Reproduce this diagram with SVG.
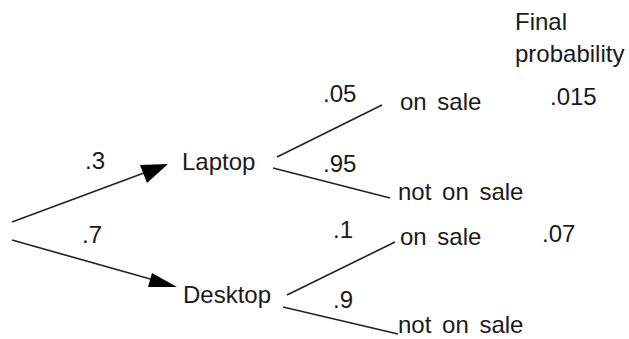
<svg xmlns="http://www.w3.org/2000/svg" width="629" height="339" viewBox="0 0 629 339">
<style>
text{font-family:"Liberation Sans",Arial,sans-serif;font-size:24px;fill:#1a1a1a}
.ln{stroke:#222;stroke-width:1.6;fill:none}
.ah{fill:#000}
</style>
<rect width="629" height="339" fill="#fff"/>
<g id="connectors">
<line class="ln" x1="12" y1="222" x2="160" y2="167"/>
<polygon class="ah" points="168,164 140,165 147,183"/>
<line class="ln" x1="12" y1="240" x2="168" y2="284"/>
<polygon class="ah" points="177,287 152,273 148,287"/>
<line class="ln" x1="277" y1="157" x2="382" y2="105"/>
<line class="ln" x1="273" y1="168" x2="390" y2="198"/>
<line class="ln" x1="287" y1="295" x2="395" y2="242"/>
<line class="ln" x1="283" y1="307" x2="398" y2="334"/>
</g>
<g id="edge-labels">
<text x="85" y="169">.3</text>
<text x="82" y="243">.7</text>
<text x="323" y="102">.05</text>
<text x="323" y="172">.95</text>
<text x="333" y="238">.1</text>
<text x="333" y="308">.9</text>
</g>
<g id="laptop"><text x="182" y="170">Laptop</text></g>
<g id="desktop"><text x="183" y="303">Desktop</text></g>
<g id="laptop-on-sale"><text x="400" y="110" word-spacing="4">on sale</text></g>
<g id="laptop-not-on-sale"><text x="398" y="200" word-spacing="4">not on sale</text></g>
<g id="desktop-on-sale"><text x="400" y="245" word-spacing="4">on sale</text></g>
<g id="desktop-not-on-sale"><text x="398" y="333" word-spacing="4">not on sale</text></g>
<g id="final-header"><text x="515" y="30">Final</text><text x="515" y="62">probability</text></g>
<g id="final-values">
<text x="550" y="105">.015</text>
<text x="542" y="242">.07</text>
</g>
</svg>
